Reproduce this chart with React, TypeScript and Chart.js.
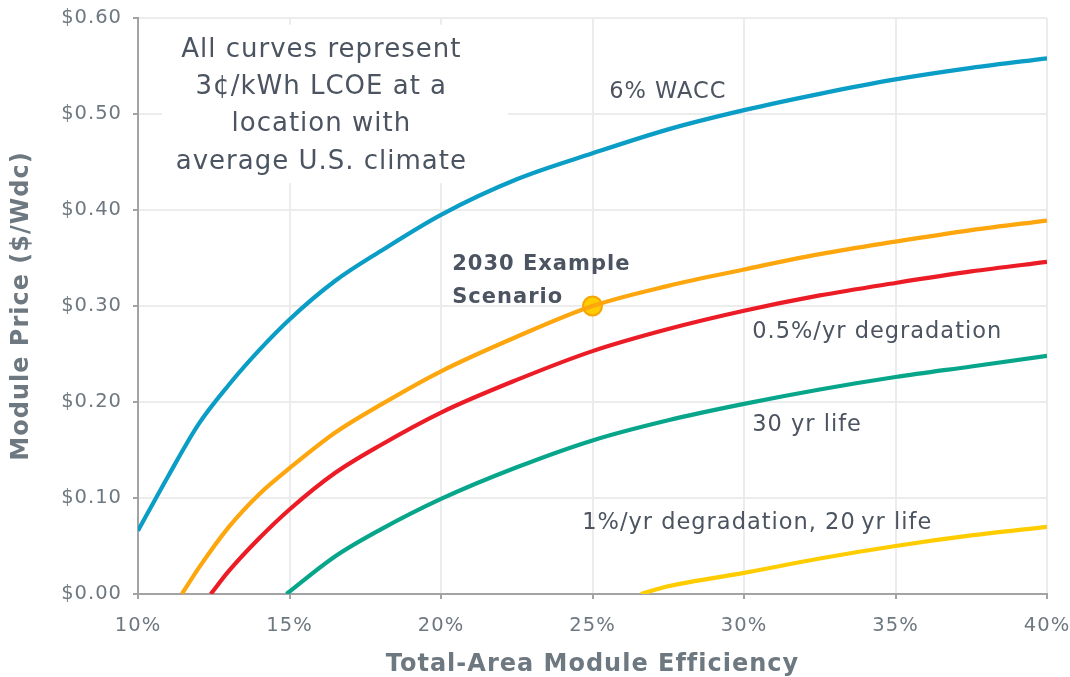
import React, { useEffect, useRef } from "react";
import { Chart, registerables } from "chart.js";

Chart.register(...registerables);

// Efficiency (%) and module price ($/Wdc) for each curve
const waccEff = [10, 11, 12, 13, 14, 15, 16.5, 18, 20, 22.5, 25, 27.5, 30, 32.5, 35, 37.5, 40];
const waccPrice = [0.066, 0.123, 0.177, 0.218, 0.254, 0.286, 0.326, 0.357, 0.395, 0.432, 0.459, 0.484, 0.504, 0.521, 0.536, 0.548, 0.558];

const baseEff = [11.45, 12, 13, 14, 15, 16.5, 18, 20, 22.5, 25, 27.5, 30, 32.5, 35, 37.5, 40];
const basePrice = [0, 0.027, 0.07, 0.104, 0.131, 0.168, 0.197, 0.232, 0.268, 0.3, 0.321, 0.338, 0.354, 0.367, 0.379, 0.389];

const degEff = [12.4, 13, 14, 15, 16.5, 18, 20, 22.5, 25, 27.5, 30, 32.5, 35, 37.5, 40];
const degPrice = [0, 0.024, 0.058, 0.088, 0.126, 0.155, 0.189, 0.223, 0.253, 0.276, 0.295, 0.311, 0.324, 0.336, 0.346];

const lifeEff = [14.9, 16.5, 18, 20, 22.5, 25, 27.5, 30, 32.5, 35, 37.5, 40];
const lifePrice = [0, 0.039, 0.067, 0.099, 0.132, 0.16, 0.181, 0.198, 0.213, 0.226, 0.237, 0.248];

const worstEff = [26.6, 27.5, 30, 32.5, 35, 37.5, 40];
const worstPrice = [0, 0.008, 0.022, 0.037, 0.05, 0.061, 0.07];

const scenarioEff = [25];
const scenarioPrice = [0.3];

const xTicks = [10, 15, 20, 25, 30, 35, 40];
const yTicks = [0, 0.1, 0.2, 0.3, 0.4, 0.5, 0.6];

const noteLines = ["All curves represent", "3¢/kWh LCOE at a", "location with", "average U.S. climate"];
const curveLabels = [
  { text: "6% WACC", x: 25.55, y: 0.523 },
  { text: "0.5%/yr degradation", x: 30.27, y: 0.273 },
  { text: "30 yr life", x: 30.27, y: 0.176 },
  { text: "1%/yr degradation, 20\u2009yr life", x: 24.66, y: 0.074 },
];
const scenarioLines = [
  { text: "2030 Example", x: 20.37, y: 0.343 },
  { text: "Scenario", x: 20.37, y: 0.309 },
];

const FONT = "'DejaVu Sans', sans-serif";
const TEXT = "#4b5460";
const GRAY = "#6e7880";

const zip = (xs: number[], ys: number[]) => xs.map((x, i) => ({ x, y: ys[i] }));

const annotPlugin = {
  id: "annots",
  beforeDraw(chart: any) {
    chart.ctx.letterSpacing = "1px";
  },
  beforeDatasetsDraw(chart: any) {
    const { ctx, scales } = chart;
    const x0 = scales.x.getPixelForValue(10.79);
    const x1 = scales.x.getPixelForValue(22.21);
    const y0 = scales.y.getPixelForValue(0.593);
    const y1 = scales.y.getPixelForValue(0.428);
    ctx.save();
    ctx.fillStyle = "#ffffff";
    ctx.fillRect(x0, y0, x1 - x0, y1 - y0);
    ctx.restore();
  },
  afterDatasetsDraw(chart: any) {
    const { ctx, scales } = chart;
    ctx.save();
    ctx.letterSpacing = "1px";
    ctx.fillStyle = TEXT;
    ctx.textBaseline = "middle";
    // note box text
    ctx.font = `26px ${FONT}`;
    ctx.textAlign = "center";
    const cx = scales.x.getPixelForValue(16.05);
    const top = scales.y.getPixelForValue(0.5667);
    noteLines.forEach((t, i) => ctx.fillText(t, cx, top + i * 37.3));
    // curve labels
    ctx.textAlign = "left";
    ctx.font = `22.5px ${FONT}`;
    curveLabels.forEach((l) => ctx.fillText(l.text, scales.x.getPixelForValue(l.x), scales.y.getPixelForValue(l.y)));
    ctx.font = `bold 21px ${FONT}`;
    scenarioLines.forEach((l) => ctx.fillText(l.text, scales.x.getPixelForValue(l.x), scales.y.getPixelForValue(l.y)));
    ctx.restore();
  },
};

export default function App() {
  const ref = useRef<HTMLCanvasElement>(null);
  useEffect(() => {
    document.body.style.margin = "0";
    const lineDs = (label: string, data: any[], color: string) => ({
      type: "line" as const,
      label,
      data,
      borderColor: color,
      backgroundColor: color,
      borderWidth: 4.2,
      pointRadius: 0,
      cubicInterpolationMode: "monotone" as const,
      fill: false,
    });
    const chart = new Chart(ref.current!, {
      type: "line",
      data: {
        datasets: [
          lineDs("6% WACC", zip(waccEff, waccPrice), "#0a9dc6"),
          lineDs("0.5%/yr degradation", zip(degEff, degPrice), "#ec1c26"),
          lineDs("30 yr life", zip(lifeEff, lifePrice), "#07a68a"),
          lineDs("1%/yr degradation, 20 yr life", zip(worstEff, worstPrice), "#ffcc00"),
          lineDs("2030 baseline", zip(baseEff, basePrice), "#fda60d"),
          {
            type: "line" as const,
            label: "2030 Example Scenario",
            data: zip(scenarioEff, scenarioPrice),
            showLine: false,
            pointRadius: 9.5,
            pointBorderWidth: 2,
            pointBackgroundColor: "#ffcc00",
            pointBorderColor: "#f7a400",
          },
        ],
      },
      options: {
        responsive: false,
        animation: false,
        events: [],
        layout: { padding: { left: 0, right: 23, top: 18, bottom: 0 } },
        plugins: { legend: { display: false }, tooltip: { enabled: false } },
        scales: {
          x: {
            type: "linear",
            min: 10,
            max: 40,
            afterFit: (s: any) => {
              s.height = 83;
              s.paddingLeft = 0;
              s.paddingRight = 0;
            },
            afterBuildTicks: (s: any) => {
              s.ticks = xTicks.map((v) => ({ value: v }));
            },
            ticks: {
              padding: 15,
              color: GRAY,
              font: { family: FONT, size: 19.5 },
              callback: (v: any) => `${v}%`,
            },
            grid: { color: "#ececec", lineWidth: 2, tickColor: "#a3a3a3", tickLength: 5, tickWidth: 2 },
            border: { color: "#a3a3a3", width: 2 },
            title: {
              display: true,
              text: "Total-Area Module Efficiency",
              color: GRAY,
              font: { family: FONT, size: 24, weight: "bold", lineHeight: 1 },
              padding: { top: 0, bottom: 0 },
            },
          },
          y: {
            type: "linear",
            min: 0,
            max: 0.6,
            afterFit: (s: any) => {
              s.width = 138;
              s.paddingTop = 0;
              s.paddingBottom = 0;
            },
            afterBuildTicks: (s: any) => {
              s.ticks = yTicks.map((v) => ({ value: v }));
            },
            ticks: {
              padding: 11,
              color: GRAY,
              font: { family: FONT, size: 19.5 },
              callback: (v: any) => `$${Number(v).toFixed(2)}`,
            },
            grid: { color: "#ececec", lineWidth: 2, tickColor: "#a3a3a3", tickLength: 5, tickWidth: 2 },
            border: { color: "#a3a3a3", width: 2 },
            title: {
              display: true,
              text: "Module Price ($/Wdc)",
              color: GRAY,
              font: { family: FONT, size: 24, weight: "bold", lineHeight: 1 },
              padding: { top: 10, bottom: 0 },
            },
          },
        },
      },
      plugins: [annotPlugin],
    });
    return () => chart.destroy();
  }, []);
  return (
    <div style={{ width: 1070, height: 677, background: "#fff" }}>
      <canvas ref={ref} width={1070} height={677} style={{ display: "block" }} />
    </div>
  );
}
